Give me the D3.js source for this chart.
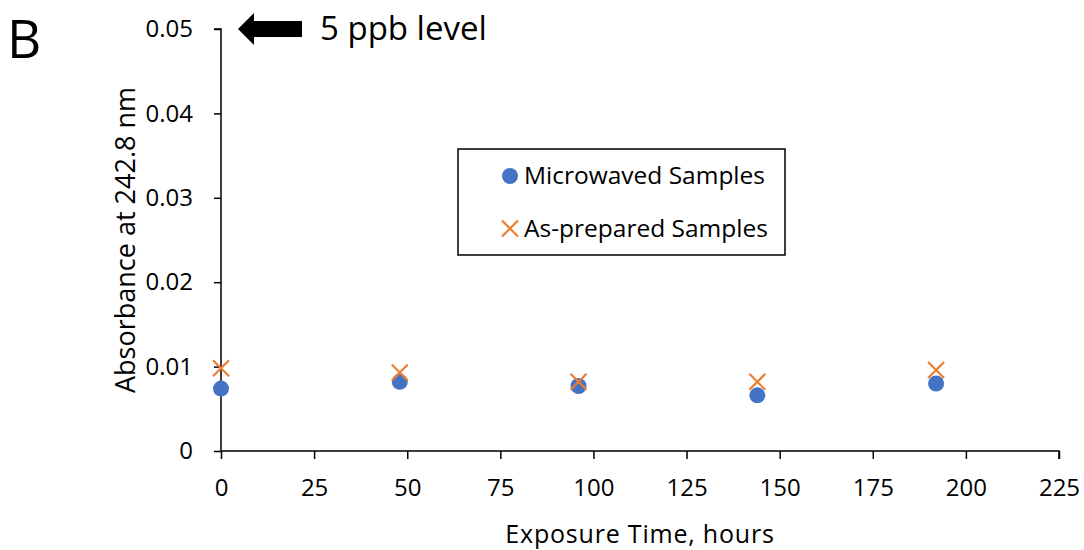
<!DOCTYPE html>
<html><head><meta charset="utf-8">
<script src="https://cdn.jsdelivr.net/npm/d3@7"></script>
<style>body{margin:0;background:#fff}svg{display:block}text{font-family:"Open Sans",sans-serif}</style>
</head><body><svg id="c" width="1084" height="550"></svg>
<script>
const hours = [0, 48, 96, 144, 192];
const microwaved = [0.0074, 0.0082, 0.0077, 0.0066, 0.0080];
const asPrepared = [0.0098, 0.0093, 0.0082, 0.0082, 0.0096];
const xTicks = [0, 25, 50, 75, 100, 125, 150, 175, 200, 225];
const yTicks = [0, 0.01, 0.02, 0.03, 0.04, 0.05];
const seriesNames = ["Microwaved Samples", "As-prepared Samples"];

const svg = d3.select("#c");
const x = d3.scaleLinear().domain([0, 225]).range([221, 1059]);
const y = d3.scaleLinear().domain([0, 0.05]).range([451, 29]);
const blue = "#4472C4", orange = "#ED7D31";

const xa = svg.append("g").attr("transform", "translate(0,451)")
  .call(d3.axisBottom(x).tickValues(xTicks).tickSize(8).tickPadding(20).tickFormat(d3.format("d")));
const ya = svg.append("g").attr("transform", "translate(221,0)")
  .call(d3.axisLeft(y).tickValues(yTicks).tickSize(7).tickPadding(21).tickFormat(d => d === 0 ? "0" : d3.format(".2f")(d)));
[xa, ya].forEach(a => {
  a.selectAll("path,line").attr("stroke", "#000").attr("stroke-width", 1.5);
  a.selectAll("text").attr("font-size", 24).attr("fill", "#000").attr("font-family", "Open Sans");
});
ya.select(".domain").attr("d", "M0,451V29H-7");
xa.select(".domain").attr("d", "M221,0H1059V8");

// data
svg.append("g").selectAll("circle").data(hours).join("circle")
  .attr("cx", (d) => x(d)).attr("cy", (d, i) => y(microwaved[i])).attr("r", 8).attr("fill", blue);
const xs = 8;
svg.append("g").selectAll("path").data(hours).join("path")
  .attr("d", (d, i) => { const cx = x(d), cy = y(asPrepared[i]);
    return `M${cx-xs},${cy-xs}L${cx+xs},${cy+xs}M${cx-xs},${cy+xs}L${cx+xs},${cy-xs}`; })
  .attr("stroke", orange).attr("stroke-width", 2.2).attr("fill", "none");

// axis titles
svg.append("text").attr("x", 640).attr("y", 543).attr("text-anchor", "middle").attr("font-size", 25).attr("letter-spacing", 0.8).text("Exposure Time, hours");
svg.append("text").attr("transform", "translate(135,240) rotate(-90)").attr("text-anchor", "middle").attr("font-size", 27).text("Absorbance at 242.8 nm");

// panel letter and annotation
svg.append("text").attr("x", 7).attr("y", 58).attr("font-size", 53).text("B");
svg.append("path").attr("d", "M238,29L254,13V21H302V37H254V45Z").attr("fill", "#000");
svg.append("text").attr("x", 320).attr("y", 40).attr("font-size", 33).text("5 ppb level");

// legend
svg.append("rect").attr("x", 458).attr("y", 149).attr("width", 327).attr("height", 106)
  .attr("fill", "#fff").attr("stroke", "#000").attr("stroke-width", 1.5);
svg.append("circle").attr("cx", 510).attr("cy", 176).attr("r", 8).attr("fill", blue);
svg.append("path").attr("d", `M${510-xs},${228.5-xs}L${510+xs},${228.5+xs}M${510-xs},${228.5+xs}L${510+xs},${228.5-xs}`)
  .attr("stroke", orange).attr("stroke-width", 2.2);
svg.append("text").attr("x", 524).attr("y", 184).attr("font-size", 24.5).text(seriesNames[0]);
svg.append("text").attr("x", 524).attr("y", 237).attr("font-size", 24.5).text(seriesNames[1]);
</script></body></html>
